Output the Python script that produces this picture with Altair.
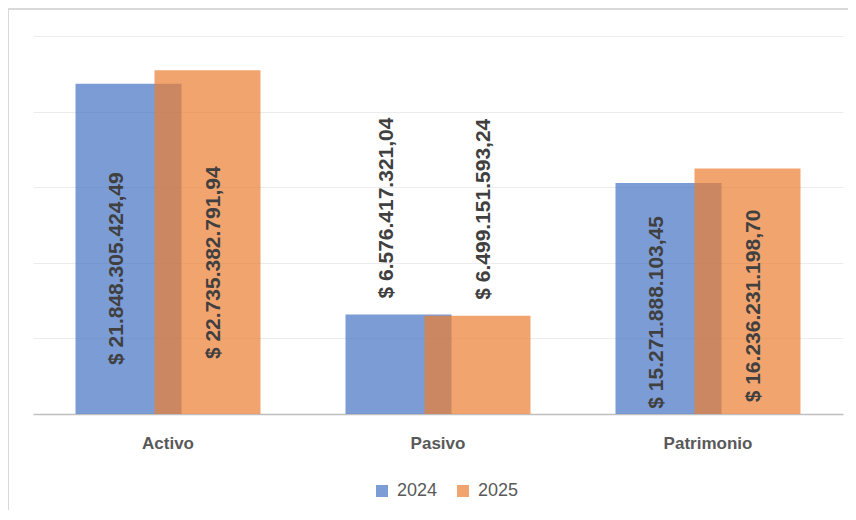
import altair as alt
import pandas as pd

categories = ["Activo", "Pasivo", "Patrimonio"]
years = ["2024", "2025"]
values_2024 = [21848305424.49, 6576417321.04, 15271888103.45]
values_2025 = [22735382791.94, 6499151593.24, 16236231198.70]
grid_ticks = [5e9, 10e9, 15e9, 20e9, 25e9]


def fmt(v):
    s = f"{v:,.2f}"
    s = s.replace(",", "X").replace(".", ",").replace("X", ".")
    return "$ " + s


rows = []
for year, vals in zip(years, [values_2024, values_2025]):
    for c, v in zip(categories, vals):
        rows.append({"categoria": c, "anio": year, "valor": v, "etiqueta": fmt(v)})
df = pd.DataFrame(rows)

FONT = "Liberation Sans"
W, H = 810, 378

color_scale = alt.Scale(domain=years, range=["#4472C4", "#ED7D31"])
x_scale = alt.Scale(paddingInner=0, paddingOuter=0)
y_scale = alt.Scale(domain=[0, 25e9], nice=False)

x_axis = alt.Axis(title=None, labelAngle=0, ticks=False, domainColor="#BFBFBF",
                  domainWidth=1.5, labelFont=FONT, labelFontWeight="bold",
                  labelFontSize=17, labelColor="#595959", labelPadding=21, grid=False)
y_axis = alt.Axis(title=None, labels=False, ticks=False, domain=False, grid=True,
                  gridColor="#ECECEC", gridWidth=1, values=grid_ticks)

bar_offsets = {"2024": -39.5, "2025": 39.5}
label_offsets = {"2024": -51, "2025": 46}

layers = []
for yr in years:
    base = alt.Chart(df).transform_filter(alt.datum.anio == yr)
    bars = base.mark_bar(size=106, xOffset=bar_offsets[yr], opacity=0.7).encode(
        x=alt.X("categoria:N", sort=categories, scale=x_scale, axis=x_axis),
        y=alt.Y("valor:Q", scale=y_scale, axis=y_axis),
        color=alt.Color("anio:N", scale=color_scale,
                        legend=alt.Legend(title=None, orient="none", legendX=340, legendY=446,
                                          direction="horizontal", symbolType="square",
                                          symbolSize=144, symbolStrokeWidth=0,
                                          symbolOpacity=0.7, labelFont=FONT,
                                          labelFontSize=18, labelColor="#595959",
                                          columnPadding=16, labelOffset=6)),
    )
    layers.append(bars)

for yr in years:
    base = alt.Chart(df).transform_filter(alt.datum.anio == yr)
    inside = base.transform_filter(alt.datum.valor > 1e10).transform_calculate(
        labelY="datum.valor * 0.44"
    ).mark_text(angle=270, align="center", baseline="middle", xOffset=label_offsets[yr],
                font=FONT, fontSize=21, fontWeight="bold", color="#404040").encode(
        x=alt.X("categoria:N", sort=categories, scale=x_scale, axis=x_axis),
        y=alt.Y("labelY:Q", scale=y_scale, axis=y_axis),
        text="etiqueta:N",
    )
    above = base.transform_filter(alt.datum.valor <= 1e10).mark_text(
        angle=270, align="left", baseline="middle", dx=16, xOffset=label_offsets[yr],
        font=FONT, fontSize=21, fontWeight="bold", color="#404040").encode(
        x=alt.X("categoria:N", sort=categories, scale=x_scale, axis=x_axis),
        y=alt.Y("valor:Q", scale=y_scale, axis=y_axis),
        text="etiqueta:N",
    )
    layers += [inside, above]

frame_v = alt.Chart(df).mark_rule(color="#D9D9D9", strokeWidth=2).encode(
    x=alt.value(-25), y=alt.value(-27), y2=alt.value(600))
frame_h = alt.Chart(df).mark_rule(color="#D9D9D9", strokeWidth=2).encode(
    x=alt.value(-26), x2=alt.value(900), y=alt.value(-27))
layers += [frame_v, frame_h]

chart = alt.layer(*layers).properties(
    width=W, height=H,
    autosize=alt.AutoSizeParams(type="none"),
    padding={"left": 25, "top": 28, "right": 5, "bottom": 96},
    background="white",
).configure_view(stroke=None)

chart.save("out.html", embed_options={"renderer": "svg", "actions": False})
